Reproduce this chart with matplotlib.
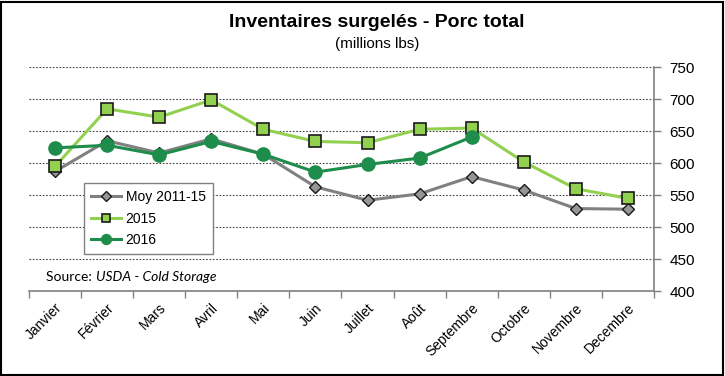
import matplotlib
matplotlib.use("Agg")
import matplotlib.pyplot as plt
from matplotlib.patches import Rectangle
from matplotlib.ticker import FixedLocator, MultipleLocator

plt.rcParams['font.family'] = ['Liberation Sans', 'DejaVu Sans']

months = ["Janvier", "Février", "Mars", "Avril", "Mai", "Juin", "Juillet", "Août",
          "Septembre", "Octobre", "Novembre", "Decembre"]
moy_2011_15 = [587, 635, 616, 638, 614, 563, 542, 552, 579, 558, 529, 528]
y2015 = [595, 685, 672, 699, 653, 634, 632, 653, 655, 602, 560, 545]
y2016 = [624, 628, 613, 634, 614, 586, 598, 608, 641]

fig = plt.figure(figsize=(7.25, 3.76), dpi=100)
ax = fig.add_axes([0.04, 0.226, 0.862, 0.595])

x = list(range(len(months)))
ax.plot(x, moy_2011_15, color='#808080', lw=2.2, marker='D', ms=6.5,
        mfc='#969696', mec='#1a1a1a', mew=1.0, label='Moy 2011-15', zorder=3)
ax.plot(x, y2015, color='#92D050', lw=2.2, marker='s', ms=8.5,
        mfc='#92D050', mec='#1a1a1a', mew=1.2, label='2015', zorder=4)
ax.plot(x[:len(y2016)], y2016, color='#1E8C4A', lw=2.2, marker='o', ms=9.5,
        mfc='#1E8C4A', mec='#1E8C4A', label='2016', zorder=5)

ax.set_xlim(-0.5, len(months) - 0.5)
ax.set_ylim(400, 750)
ax.yaxis.set_major_locator(MultipleLocator(50))
ax.yaxis.tick_right()
ax.tick_params(axis='y', direction='out', length=5, width=1, color='#808080',
               labelsize=11, pad=6)
ax.set_xticks(x)
ax.set_xticklabels(months, rotation=45, ha='right', rotation_mode='anchor', fontsize=10)
ax.tick_params(axis='x', which='major', length=0, pad=7)
ax.xaxis.set_minor_locator(FixedLocator([i - 0.5 for i in range(len(months) + 1)]))
ax.tick_params(axis='x', which='minor', direction='out', length=5, width=1, color='#808080')

ax.grid(axis='y', color='#404040', ls=(0, (1.5, 1.5)), lw=0.8)
ax.set_axisbelow(True)
for s in ['top', 'left']:
    ax.spines[s].set_visible(False)
for s in ['bottom', 'right']:
    ax.spines[s].set_color('#808080')
    ax.spines[s].set_linewidth(1.2)

leg = ax.legend(loc='upper left', bbox_to_anchor=(0.088, 0.483), fontsize=10,
                frameon=True, fancybox=False, edgecolor='#808080', markerscale=0.75,
                handlelength=2.2, handletextpad=0.3, borderpad=0.5, labelspacing=0.55,
                borderaxespad=0)
leg.get_frame().set_linewidth(1.0)
leg.get_frame().set_alpha(1)

fig.text(0.063, 0.262, "Source: ", fontsize=10, family='Lato', ha='left', va='center')
fig.text(0.063 + 0.07, 0.262, "USDA - Cold Storage", fontsize=10, family='Lato',
         style='italic', ha='left', va='center')

fig.text(0.52, 0.94, "Inventaires surgelés - Porc total", fontsize=14, fontweight='bold',
         family=['Liberation Sans Narrow', 'Liberation Sans'], ha='center', va='center')
fig.text(0.52, 0.883, "(millions lbs)", fontsize=11,
         family=['Liberation Sans Narrow', 'Liberation Sans'], ha='center', va='center')

fig.patches.append(Rectangle((0.002, 0.003), 0.995, 0.993, transform=fig.transFigure,
                             fill=False, edgecolor='black', lw=1.5))

fig.savefig("out.png", dpi=100)
